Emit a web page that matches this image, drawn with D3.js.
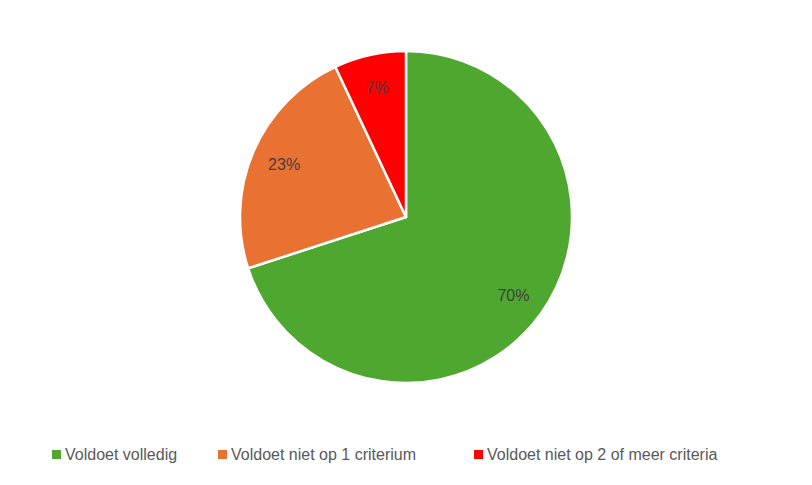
<!DOCTYPE html>
<html><head><meta charset="utf-8">
<script src="https://cdn.jsdelivr.net/npm/d3@7"></script>
<style>body{margin:0;background:#fff}</style></head>
<body><svg id="c" width="812" height="485"></svg>
<script>
const categories = ["Voldoet volledig", "Voldoet niet op 1 criterium", "Voldoet niet op 2 of meer criteria"];
const values = [70, 23, 7];
const labels = ["70%", "23%", "7%"];
const colors = ["#4EA72E", "#E97132", "#FF0000"];

const svg = d3.select("#c");
const cx = 406, cy = 217, R = 166;
const pie = d3.pie().sort(null).value(d => d)(values);
const arc = d3.arc().innerRadius(0).outerRadius(R);
const lab = d3.arc().innerRadius(R*0.8).outerRadius(R*0.8);
const g = svg.append("g").attr("transform", `translate(${cx},${cy})`);
g.selectAll("path").data(pie).join("path")
  .attr("d", arc).attr("fill", (d,i) => colors[i])
  .attr("stroke", "#fff").attr("stroke-width", 2.5).attr("stroke-linejoin","round");
g.selectAll("text").data(pie).join("text")
  .attr("transform", d => `translate(${lab.centroid(d)})`)
  .attr("text-anchor", "middle").attr("dy", "0.35em")
  .attr("font-family", "Liberation Sans, Arial, sans-serif").attr("font-size", 16)
  .attr("fill", "#404040").text((d,i) => labels[i]);

const lg = svg.append("g");
const xs = [52, 218, 474];
categories.forEach((c, i) => {
  lg.append("rect").attr("x", xs[i]).attr("y", 450).attr("width", 9).attr("height", 9).attr("fill", colors[i]);
  lg.append("text").attr("x", xs[i] + 13).attr("y", 460)
    .attr("font-family", "Liberation Sans, Arial, sans-serif").attr("font-size", 16)
    .attr("fill", "#595959").text(c);
});
</script></body></html>
